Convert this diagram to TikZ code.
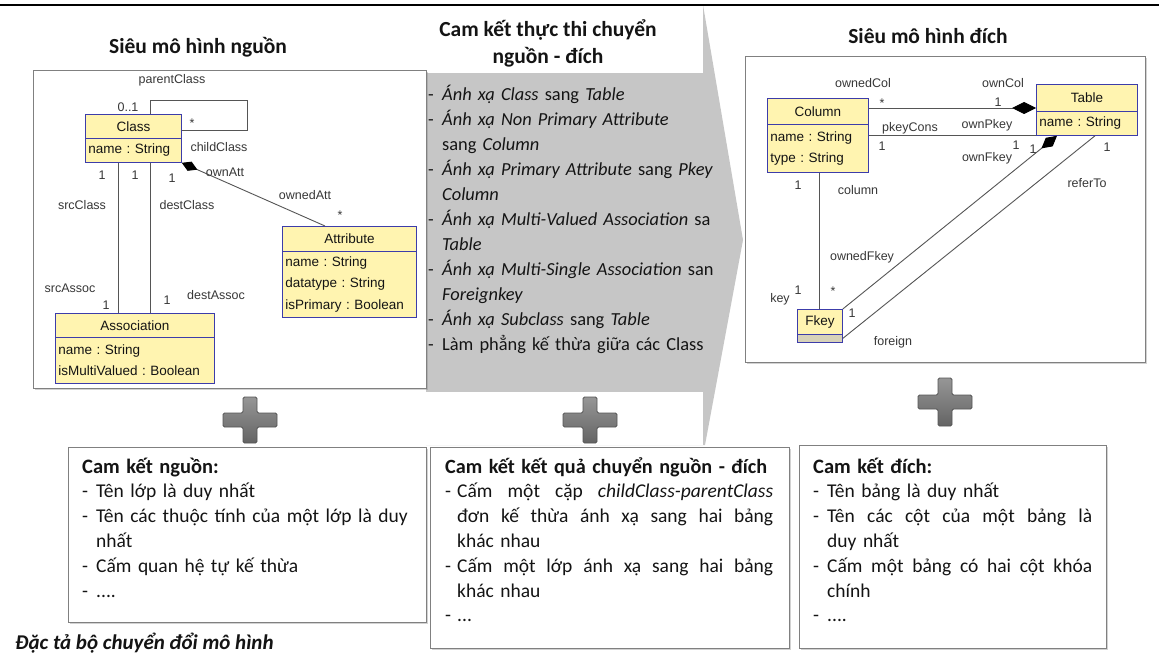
\documentclass[tikz,border=0pt]{standalone}
\usepackage{fontspec}
\setmainfont{Carlito}
\newfontfamily\umlfont{Liberation Sans}
\usetikzlibrary{arrows.meta,shadows}
\definecolor{umlfill}{RGB}{255,244,176}
\definecolor{umlline}{RGB}{60,60,170}
\definecolor{connc}{RGB}{85,85,85}
\definecolor{arrowgray}{RGB}{198,198,198}
\definecolor{boxline}{RGB}{128,128,128}
\definecolor{txt}{RGB}{20,20,20}
\definecolor{plustop}{RGB}{150,150,150}
\definecolor{plusbot}{RGB}{100,100,100}
\definecolor{plusline}{RGB}{85,85,85}
\definecolor{fkeyfill}{RGB}{215,210,185}
\newcommand\jline[2]{\makebox[#1][s]{\spaceskip=0.25em plus 1em\relax #2}}
\begin{document}
\begin{tikzpicture}[x=1pt,y=-1pt,
  umlhd/.style={draw=umlline, fill=umlfill, line width=0.8pt, inner sep=0pt, anchor=north west,
    font=\umlfont\fontsize{13.5}{21.5}\selectfont\frenchspacing, text=txt, align=center},
  umlbd/.style={umlhd, align=left, inner xsep=3pt},
  lbl/.style={font=\umlfont\fontsize{12.5}{14}\selectfont, text=txt!85, inner sep=0pt},
  conn/.style={draw=connc, line width=0.9pt},
  bigbox/.style={draw=boxline, line width=1.1pt, fill=white, anchor=north west, inner sep=0pt,
    drop shadow={shadow xshift=1.5pt, shadow yshift=-1.5pt, opacity=0.35}},
  body/.style={font=\fontsize{19.5}{24.8}\selectfont, text=txt, inner sep=0pt, align=left, anchor=base west},
  ttl/.style={font=\bfseries\fontsize{21.5}{27}\selectfont, text=txt, inner sep=0pt, align=center, anchor=base},
  plusbox/.style={draw=plusline, line width=0.8pt, top color=plustop, bottom color=plusbot, rounded corners=1.5pt}
]
\useasboundingbox (0,0) rectangle (1159,658);
\fill[white] (0,0) rectangle (1159,658);

% gray arrow in the middle
\fill[arrowgray] (426,5) -- (703,5) -- (743,240) -- (705,445) -- (426,445) -- cycle;
\fill[white] (426,5) rectangle (703,73);
\fill[white] (426,392) rectangle (703,445);

% top rule
\draw[line width=2pt] (0,5) -- (1159,5);

% titles
\node[ttl] (t1) at (198,54) {Siêu mô hình nguồn};
\node[ttl] (t2) at (548,64) {Cam kết thực thi chuyển\\nguồn - đích};
\node[ttl] (t3) at (928,44) {Siêu mô hình đích};

% ---------- source metamodel ----------
\node[bigbox, minimum width=393pt, minimum height=318pt] (srcmm) at (33,70) {};
\node[umlhd, minimum width=96pt, minimum height=24pt] (clsh) at (85,114) {Class};
\node[umlbd, text width=90pt, minimum height=24pt] (clsb) at (85,138) {name : String};
\node[umlhd, minimum width=134pt, minimum height=25pt] (attrh) at (282,226) {Attribute};
\node[umlbd, text width=128pt, minimum height=66pt] (attrb) at (282,251) {name : String\\datatype : String\\isPrimary : Boolean};
\node[umlhd, minimum width=159pt, minimum height=24pt] (assoch) at (55,313) {Association};
\node[umlbd, text width=153pt, minimum height=46pt] (assocb) at (55,337) {name : String\\isMultiValued : Boolean};

\coordinate (lp1) at (150,100);
\coordinate (lp2) at (247,130);
\coordinate (xs) at (118,0);
\coordinate (xd) at (150,0);
\coordinate (xa) at (325,0);
\draw[conn] (clsh.north -| lp1) -- (lp1) -| (lp2) -- (lp2 -| clsh.east);
\draw[conn, {Diamond[length=17pt,width=10pt,color=black]}-] (clsb.south east) -- (attrh.north -| xa);
\draw[conn] (clsb.south -| xs) -- (assoch.north -| xs);
\draw[conn] (clsb.south -| xd) -- (assoch.north -| xd);

\node[lbl] (l1) at (172,80) {parentClass};
\node[lbl] (l2) at (128,107) {0..1};
\node[lbl] (l3) at (192,123) {*};
\node[lbl] (l4) at (219,147) {childClass};
\node[lbl] (l5) at (225,172) {ownAtt};
\node[lbl] (l6) at (102,175) {1};
\node[lbl] (l7) at (135,175) {1};
\node[lbl] (l8) at (172,178) {1};
\node[lbl] (l9) at (305,195) {ownedAtt};
\node[lbl] (l10) at (340,215) {*};
\node[lbl] (l11) at (82,205) {srcClass};
\node[lbl] (l12) at (187,205) {destClass};
\node[lbl] (l13) at (70,288) {srcAssoc};
\node[lbl] (l14) at (106,305) {1};
\node[lbl] (l15) at (167,300) {1};
\node[lbl] (l16) at (216,295) {destAssoc};

% ---------- target metamodel ----------
\node[bigbox, minimum width=400pt, minimum height=306pt] (tgtmm) at (745,56) {};
\node[umlhd, minimum width=101pt, minimum height=26pt] (colh) at (767,98) {Column};
\node[umlbd, text width=95pt, minimum height=48pt] (colb) at (767,124) {name : String\\type : String};
\node[umlhd, minimum width=101pt, minimum height=27pt] (tabh) at (1036,84) {Table};
\node[umlbd, text width=95pt, minimum height=24pt] (tabb) at (1036,111) {name : String};
\node[umlhd, minimum width=45pt, minimum height=25pt] (fkh) at (797,309) {Fkey};
\node[umlhd, fill=fkeyfill, minimum width=45pt, minimum height=8pt] (fkb) at (797,334) {};

\coordinate (yc) at (0,108);
\coordinate (yp) at (0,135);
\coordinate (xf) at (1057,0);
\coordinate (xr) at (1095,0);
\coordinate (xk) at (819,0);
\draw[conn, -{Diamond[length=24pt,width=12pt,color=black]}] (colh.east |- yc) -- (tabh.west |- yc);
\draw[conn] (colb.east |- yp) -- (tabb.west |- yp);
\draw[conn, {Diamond[length=20pt,width=11pt,color=black]}-] (tabb.south -| xf) -- (fkh.north east);
\draw[conn] (tabb.south -| xr) -- (fkb.east);
\draw[conn] (colb.south -| xk) -- (fkh.north -| xk);

\node[lbl] (r1) at (863,83) {ownedCol};
\node[lbl] (r2) at (1003,83) {ownCol};
\node[lbl] (r3) at (882,103) {*};
\node[lbl] (r4) at (998,102) {1};
\node[lbl] (r5) at (910,128) {pkeyCons};
\node[lbl] (r6) at (987,125) {ownPkey};
\node[lbl] (r7) at (882,146) {1};
\node[lbl] (r8) at (1016,145) {1};
\node[lbl] (r9) at (987,158) {ownFkey};
\node[lbl] (r10) at (1033,149) {1};
\node[lbl] (r11) at (852,313) {1};
\node[lbl] (r12) at (1107,147) {1};
\node[lbl] (r13) at (1087,183) {referTo};
\node[lbl] (r14) at (893,342) {foreign};
\node[lbl] (r15) at (798,185) {1};
\node[lbl] (r16) at (858,190) {column};
\node[lbl] (r17) at (862,257) {ownedFkey};
\node[lbl] (r18) at (833,291) {*};
\node[lbl] (r19) at (798,290) {1};
\node[lbl] (r20) at (780,299) {key};

% ---------- middle list ----------
\node[body, font=\fontsize{18.4}{25}\selectfont, text width=320pt] (mid) at (428,101) {%
\makebox[14pt][l]{-}\textit{Ánh xạ Class} sang \textit{Table}\\
\makebox[14pt][l]{-}\textit{Ánh xạ Non Primary Attribute}\\
\hspace*{14pt}sang \textit{Column}\\
\makebox[14pt][l]{-}\textit{Ánh xạ Primary Attribute} sang \textit{Pkey}\\
\hspace*{14pt}\textit{Column}\\
\makebox[14pt][l]{-}\textit{Ánh xạ Multi-Valued Association} sa\\
\hspace*{14pt}\textit{Table}\\
\makebox[14pt][l]{-}\textit{Ánh xạ Multi-Single Association} san\\
\hspace*{14pt}\textit{Foreignkey}\\
\makebox[14pt][l]{-}\textit{Ánh xạ Subclass} sang \textit{Table}\\
\makebox[14pt][l]{-}Làm phẳng kế thừa giữa các Class};

% ---------- plus signs ----------
\draw[plusbox, shift={(250,420)}] (-7,-23) -- (7,-23) -- (7,-7) -- (27,-7) -- (27,7) -- (7,7) -- (7,23) -- (-7,23) -- (-7,7) -- (-27,7) -- (-27,-7) -- (-7,-7) -- cycle;
\draw[plusbox, shift={(590,420)}] (-7,-23) -- (7,-23) -- (7,-7) -- (27,-7) -- (27,7) -- (7,7) -- (7,23) -- (-7,23) -- (-7,7) -- (-27,7) -- (-27,-7) -- (-7,-7) -- cycle;
\draw[plusbox, shift={(945,402)}] (-7,-24) -- (7,-24) -- (7,-7) -- (27,-7) -- (27,7) -- (7,7) -- (7,24) -- (-7,24) -- (-7,7) -- (-27,7) -- (-27,-7) -- (-7,-7) -- cycle;

% ---------- bottom boxes ----------
\node[bigbox, minimum width=358pt, minimum height=175pt] (bl) at (68,447) {};
\node[bigbox, minimum width=359pt, minimum height=201pt] (bm) at (430,447) {};
\node[bigbox, minimum width=307pt, minimum height=203pt] (br) at (799,445) {};

\node[body, text width=340pt] (blt) at (82,473) {%
{\fontsize{20.5}{24.8}\selectfont\textbf{Cam kết nguồn:}}\\
\makebox[14pt][l]{-}Tên lớp là duy nhất\\
\makebox[14pt][l]{-}Tên các thuộc tính của một lớp là duy\\
\hspace*{14pt}nhất\\
\makebox[14pt][l]{-}Cấm quan hệ tự kế thừa\\
\makebox[14pt][l]{-}....};

\node[body, text width=345pt] (bmt) at (445,473) {%
{\fontsize{20.2}{24.8}\selectfont\textbf{Cam kết kết quả chuyển nguồn - đích}}\\
\makebox[12pt][l]{-}\jline{316pt}{Cấm một cặp \textit{childClass-parentClass}}\\
\hspace*{12pt}\jline{316pt}{đơn kế thừa ánh xạ sang hai bảng}\\
\hspace*{12pt}khác nhau\\
\makebox[12pt][l]{-}\jline{316pt}{Cấm một lớp ánh xạ sang hai bảng}\\
\hspace*{12pt}khác nhau\\
\makebox[12pt][l]{-}...};

\node[body, text width=290pt] (brt) at (813,473) {%
{\fontsize{20.5}{24.8}\selectfont\textbf{Cam kết đích:}}\\
\makebox[14pt][l]{-}Tên bảng là duy nhất\\
\makebox[14pt][l]{-}\jline{265pt}{Tên các cột của một bảng là}\\
\hspace*{14pt}duy nhất\\
\makebox[14pt][l]{-}\jline{265pt}{Cấm một bảng có hai cột khóa}\\
\hspace*{14pt}chính\\
\makebox[14pt][l]{-}....};

\node[body, font=\bfseries\itshape\fontsize{21}{22}\selectfont] (cap) at (15,649) {Đặc tả bộ chuyển đổi mô hình};
\end{tikzpicture}
\end{document}
